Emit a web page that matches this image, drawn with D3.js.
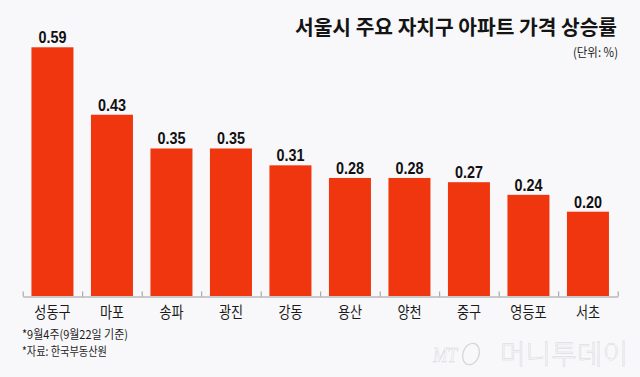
<!DOCTYPE html>
<html><head><meta charset="utf-8">
<script src="https://cdn.jsdelivr.net/npm/d3@7"></script>
<style>
html,body{margin:0;padding:0;background:#f8f8fa;}
svg{display:block;}
</style></head>
<body>
<svg id="c" width="640" height="377"></svg>
<script>
const categories = ["성동구","마포","송파","광진","강동","용산","양천","중구","영등포","서초"];
const values = [0.59,0.43,0.35,0.35,0.31,0.28,0.28,0.27,0.24,0.20];
const titleText = "서울시 주요 자치구 아파트 가격 상승률";
const unitText = "(단위: %)";
const notes = ["*9월4주(9월22일 기준)", "*자료: 한국부동산원"];
const brand = "머니투데이";

const W = 640, H = 377;
const svg = d3.select("#c");
svg.append("rect").attr("width", W).attr("height", H).attr("fill", "#f8f8fa");

const left = 22.7, right = 617.7, base = 296;
const x = d3.scaleBand().domain(categories).range([left, right]).paddingInner(0.294).paddingOuter(0.147);
const y = d3.scaleLinear().domain([0, 0.59]).range([base, 47.3]);
const KR = "'Noto Sans CJK KR', 'Noto Sans', sans-serif";

// title
svg.append("text").attr("x", 617).attr("y", 35).attr("text-anchor", "end")
  .attr("font-family", KR).attr("font-weight", 700).attr("font-size", 20.5)
  .attr("fill", "#141414").attr("textLength", 322).attr("lengthAdjust", "spacingAndGlyphs")
  .text(titleText);
svg.append("text").attr("x", 618).attr("y", 57).attr("text-anchor", "end")
  .attr("font-family", KR).attr("font-size", 12.5).attr("fill", "#222")
  .attr("textLength", 45).attr("lengthAdjust", "spacingAndGlyphs")
  .text(unitText);

// bars
svg.append("g").selectAll("rect").data(values).join("rect")
  .attr("x", (d, i) => x(categories[i]))
  .attr("width", x.bandwidth())
  .attr("y", d => y(d))
  .attr("height", d => y(0) - y(d))
  .attr("fill", "#f0360f");

// value labels
svg.append("g").selectAll("text").data(values).join("text")
  .attr("x", (d, i) => x(categories[i]) + x.bandwidth() / 2)
  .attr("y", d => y(d) - 4)
  .attr("text-anchor", "middle")
  .attr("font-family", "'Liberation Sans', Arial, sans-serif")
  .attr("font-weight", 700).attr("font-size", 16.5)
  .attr("textLength", 28).attr("lengthAdjust", "spacingAndGlyphs")
  .attr("fill", "#111")
  .text(d => d.toFixed(2));

// axis line with boundary ticks
const tickScale = d3.scaleLinear().domain([0, categories.length]).range([left, right]);
const axisG = svg.append("g").attr("transform", `translate(0,${base + 0.5})`)
  .call(d3.axisBottom(tickScale).tickValues(d3.range(categories.length + 1)).tickSize(-5).tickSizeOuter(0).tickFormat(""));
axisG.select(".domain").attr("stroke", "#9a9a9a");
axisG.selectAll(".tick line").attr("stroke", "#9a9a9a");

// category labels
const catG = svg.append("g").attr("transform", `translate(0,${base})`)
  .call(d3.axisBottom(x).tickSize(0).tickPadding(0));
catG.select(".domain").remove();
catG.selectAll(".tick text")
  .attr("y", 0).attr("dy", 0)
  .attr("transform", "translate(0,21.5) scale(0.82,1)")
  .attr("font-family", KR).attr("font-size", 16).attr("fill", "#1a1a1a");

// notes
svg.append("g").selectAll("text").data(notes).join("text")
  .attr("x", 22).attr("y", (d, i) => 338.5 + i * 17)
  .attr("font-family", KR).attr("font-size", 12).attr("fill", "#1e1e1e")
  .attr("textLength", (d, i) => i === 0 ? 106 : 85).attr("lengthAdjust", "spacingAndGlyphs")
  .text(d => d);

// watermark
const wm = svg.append("g").attr("fill", "#fbfbfc").attr("stroke", "#d6d6da").attr("stroke-width", 0.5);
wm.append("text").attr("x", 433).attr("y", 362).attr("font-family", "'Liberation Serif', serif")
  .attr("font-style", "italic").attr("font-size", 22).attr("textLength", 24).attr("lengthAdjust", "spacingAndGlyphs").text("MT");
wm.append("ellipse").attr("cx", 471).attr("cy", 354).attr("rx", 8).attr("ry", 11)
  .attr("transform", "rotate(20,471,354)").attr("stroke-width", 1.3).attr("fill", "none");
wm.append("text").attr("x", 500).attr("y", 364).attr("font-family", KR).attr("font-weight", 300)
  .attr("font-size", 27).attr("textLength", 128).attr("lengthAdjust", "spacingAndGlyphs").text(brand);
</script>
</body></html>
